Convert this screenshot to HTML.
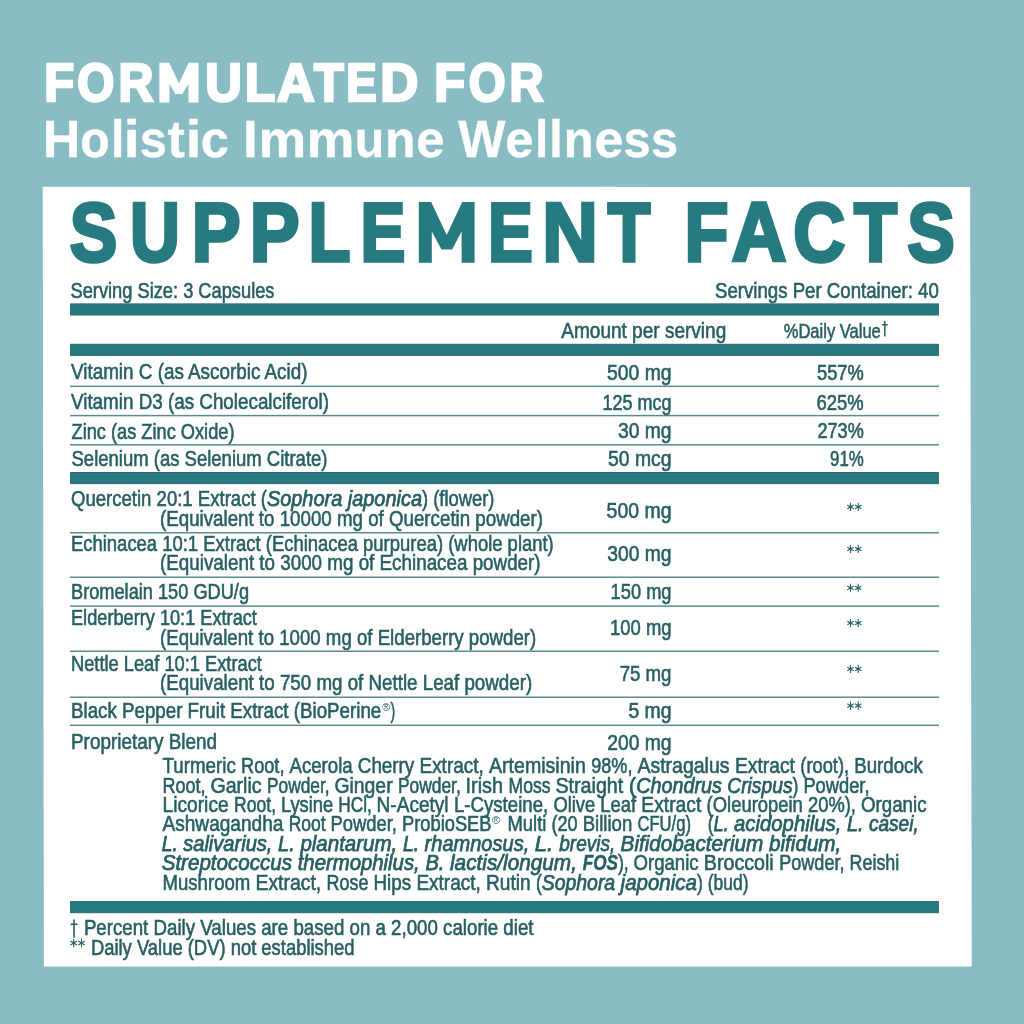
<!DOCTYPE html>
<html><head><meta charset="utf-8"><title>Supplement Facts</title>
<style>
html,body{margin:0;padding:0;background:#89bcc3;}
body{width:1024px;height:1024px;overflow:hidden;}
svg{display:block;font-family:"Liberation Sans",sans-serif;will-change:transform;}
text{white-space:pre;}
</style></head><body>
<svg width="1024" height="1024" viewBox="0 0 1024 1024">
<rect x="0" y="0" width="1024" height="1024" fill="#89bcc3"/>
<polygon points="42.7,186.8 970.1,186.9 971.8,966.5 43.9,966.4" fill="#ffffff"/>
<text x="44.27" y="101.2" font-size="53.77906976744187" font-weight="bold" fill="#ffffff" stroke="#ffffff" stroke-width="2.6" stroke-linejoin="miter" textLength="29.98" lengthAdjust="spacingAndGlyphs">F</text>
<text x="77.34" y="101.2" font-size="53.77906976744187" font-weight="bold" fill="#ffffff" stroke="#ffffff" stroke-width="2.6" stroke-linejoin="miter" textLength="37.11" lengthAdjust="spacingAndGlyphs">O</text>
<text x="118.57" y="101.2" font-size="53.77906976744187" font-weight="bold" fill="#ffffff" stroke="#ffffff" stroke-width="2.6" stroke-linejoin="miter" textLength="34.87" lengthAdjust="spacingAndGlyphs">R</text>
<text x="205.26" y="101.2" font-size="53.77906976744187" font-weight="bold" fill="#ffffff" stroke="#ffffff" stroke-width="2.6" stroke-linejoin="miter" textLength="36.52" lengthAdjust="spacingAndGlyphs">U</text>
<text x="244.99" y="101.2" font-size="53.77906976744187" font-weight="bold" fill="#ffffff" stroke="#ffffff" stroke-width="2.6" stroke-linejoin="miter" textLength="30.23" lengthAdjust="spacingAndGlyphs">L</text>
<text x="277.00" y="101.2" font-size="53.77906976744187" font-weight="bold" fill="#ffffff" stroke="#ffffff" stroke-width="2.6" stroke-linejoin="miter" textLength="37.57" lengthAdjust="spacingAndGlyphs">A</text>
<text x="314.00" y="101.2" font-size="53.77906976744187" font-weight="bold" fill="#ffffff" stroke="#ffffff" stroke-width="2.6" stroke-linejoin="miter" textLength="29.72" lengthAdjust="spacingAndGlyphs">T</text>
<text x="346.24" y="101.2" font-size="53.77906976744187" font-weight="bold" fill="#ffffff" stroke="#ffffff" stroke-width="2.6" stroke-linejoin="miter" textLength="30.49" lengthAdjust="spacingAndGlyphs">E</text>
<text x="380.27" y="101.2" font-size="53.77906976744187" font-weight="bold" fill="#ffffff" stroke="#ffffff" stroke-width="2.6" stroke-linejoin="miter" textLength="38.15" lengthAdjust="spacingAndGlyphs">D</text>
<text x="434.17" y="101.2" font-size="53.77906976744187" font-weight="bold" fill="#ffffff" stroke="#ffffff" stroke-width="2.6" stroke-linejoin="miter" textLength="30.88" lengthAdjust="spacingAndGlyphs">F</text>
<text x="468.86" y="101.2" font-size="53.77906976744187" font-weight="bold" fill="#ffffff" stroke="#ffffff" stroke-width="2.6" stroke-linejoin="miter" textLength="36.83" lengthAdjust="spacingAndGlyphs">O</text>
<text x="509.40" y="101.2" font-size="53.77906976744187" font-weight="bold" fill="#ffffff" stroke="#ffffff" stroke-width="2.6" stroke-linejoin="miter" textLength="34.02" lengthAdjust="spacingAndGlyphs">R</text>
<text x="43.00" y="157.3" font-size="52.470930232558146" font-weight="bold" fill="#ffffff" stroke="#ffffff" stroke-width="0.4" stroke-linejoin="miter" textLength="37.28" lengthAdjust="spacingAndGlyphs">H</text>
<text x="80.32" y="157.3" font-size="52.470930232558146" font-weight="bold" fill="#ffffff" stroke="#ffffff" stroke-width="0.4" stroke-linejoin="miter" textLength="29.35" lengthAdjust="spacingAndGlyphs">o</text>
<text x="111.09" y="157.3" font-size="52.470930232558146" font-weight="bold" fill="#ffffff" stroke="#ffffff" stroke-width="0.4" stroke-linejoin="miter" textLength="13.36" lengthAdjust="spacingAndGlyphs">l</text>
<text x="123.71" y="157.3" font-size="52.470930232558146" font-weight="bold" fill="#ffffff" stroke="#ffffff" stroke-width="0.4" stroke-linejoin="miter" textLength="15.90" lengthAdjust="spacingAndGlyphs">i</text>
<text x="139.74" y="157.3" font-size="52.470930232558146" font-weight="bold" fill="#ffffff" stroke="#ffffff" stroke-width="0.4" stroke-linejoin="miter" textLength="27.06" lengthAdjust="spacingAndGlyphs">s</text>
<text x="167.56" y="157.3" font-size="52.470930232558146" font-weight="bold" fill="#ffffff" stroke="#ffffff" stroke-width="0.4" stroke-linejoin="miter" textLength="17.37" lengthAdjust="spacingAndGlyphs">t</text>
<text x="185.46" y="157.3" font-size="52.470930232558146" font-weight="bold" fill="#ffffff" stroke="#ffffff" stroke-width="0.4" stroke-linejoin="miter" textLength="15.90" lengthAdjust="spacingAndGlyphs">i</text>
<text x="200.73" y="157.3" font-size="52.470930232558146" font-weight="bold" fill="#ffffff" stroke="#ffffff" stroke-width="0.4" stroke-linejoin="miter" textLength="28.05" lengthAdjust="spacingAndGlyphs">c</text>
<text x="242.92" y="157.3" font-size="52.470930232558146" font-weight="bold" fill="#ffffff" stroke="#ffffff" stroke-width="0.4" stroke-linejoin="miter" textLength="14.66" lengthAdjust="spacingAndGlyphs">I</text>
<text x="258.68" y="157.3" font-size="52.470930232558146" font-weight="bold" fill="#ffffff" stroke="#ffffff" stroke-width="0.4" stroke-linejoin="miter" textLength="47.42" lengthAdjust="spacingAndGlyphs">m</text>
<text x="306.66" y="157.3" font-size="52.470930232558146" font-weight="bold" fill="#ffffff" stroke="#ffffff" stroke-width="0.4" stroke-linejoin="miter" textLength="47.72" lengthAdjust="spacingAndGlyphs">m</text>
<text x="354.70" y="157.3" font-size="52.470930232558146" font-weight="bold" fill="#ffffff" stroke="#ffffff" stroke-width="0.4" stroke-linejoin="miter" textLength="29.54" lengthAdjust="spacingAndGlyphs">u</text>
<text x="384.91" y="157.3" font-size="52.470930232558146" font-weight="bold" fill="#ffffff" stroke="#ffffff" stroke-width="0.4" stroke-linejoin="miter" textLength="30.48" lengthAdjust="spacingAndGlyphs">n</text>
<text x="416.21" y="157.3" font-size="52.470930232558146" font-weight="bold" fill="#ffffff" stroke="#ffffff" stroke-width="0.4" stroke-linejoin="miter" textLength="28.33" lengthAdjust="spacingAndGlyphs">e</text>
<text x="458.15" y="157.3" font-size="52.470930232558146" font-weight="bold" fill="#ffffff" stroke="#ffffff" stroke-width="0.4" stroke-linejoin="miter" textLength="47.20" lengthAdjust="spacingAndGlyphs">W</text>
<text x="505.21" y="157.3" font-size="52.470930232558146" font-weight="bold" fill="#ffffff" stroke="#ffffff" stroke-width="0.4" stroke-linejoin="miter" textLength="28.33" lengthAdjust="spacingAndGlyphs">e</text>
<text x="535.22" y="157.3" font-size="52.470930232558146" font-weight="bold" fill="#ffffff" stroke="#ffffff" stroke-width="0.4" stroke-linejoin="miter" textLength="12.86" lengthAdjust="spacingAndGlyphs">l</text>
<text x="549.34" y="157.3" font-size="52.470930232558146" font-weight="bold" fill="#ffffff" stroke="#ffffff" stroke-width="0.4" stroke-linejoin="miter" textLength="13.36" lengthAdjust="spacingAndGlyphs">l</text>
<text x="563.73" y="157.3" font-size="52.470930232558146" font-weight="bold" fill="#ffffff" stroke="#ffffff" stroke-width="0.4" stroke-linejoin="miter" textLength="29.85" lengthAdjust="spacingAndGlyphs">n</text>
<text x="594.42" y="157.3" font-size="52.470930232558146" font-weight="bold" fill="#ffffff" stroke="#ffffff" stroke-width="0.4" stroke-linejoin="miter" textLength="28.91" lengthAdjust="spacingAndGlyphs">e</text>
<text x="623.49" y="157.3" font-size="52.470930232558146" font-weight="bold" fill="#ffffff" stroke="#ffffff" stroke-width="0.4" stroke-linejoin="miter" textLength="27.06" lengthAdjust="spacingAndGlyphs">s</text>
<text x="650.99" y="157.3" font-size="52.470930232558146" font-weight="bold" fill="#ffffff" stroke="#ffffff" stroke-width="0.4" stroke-linejoin="miter" textLength="27.06" lengthAdjust="spacingAndGlyphs">s</text>
<text x="69.69" y="261.25" font-size="83.57558139534885" font-weight="bold" fill="#277a80" stroke="#277a80" stroke-width="3.5" stroke-linejoin="miter" textLength="47.59" lengthAdjust="spacingAndGlyphs">S</text>
<text x="130.10" y="261.25" font-size="83.57558139534885" font-weight="bold" fill="#277a80" stroke="#277a80" stroke-width="3.5" stroke-linejoin="miter" textLength="49.86" lengthAdjust="spacingAndGlyphs">U</text>
<text x="191.84" y="261.25" font-size="83.57558139534885" font-weight="bold" fill="#277a80" stroke="#277a80" stroke-width="3.5" stroke-linejoin="miter" textLength="48.91" lengthAdjust="spacingAndGlyphs">P</text>
<text x="249.76" y="261.25" font-size="83.57558139534885" font-weight="bold" fill="#277a80" stroke="#277a80" stroke-width="3.5" stroke-linejoin="miter" textLength="49.80" lengthAdjust="spacingAndGlyphs">P</text>
<text x="308.41" y="261.25" font-size="83.57558139534885" font-weight="bold" fill="#277a80" stroke="#277a80" stroke-width="3.5" stroke-linejoin="miter" textLength="41.96" lengthAdjust="spacingAndGlyphs">L</text>
<text x="360.50" y="261.25" font-size="83.57558139534885" font-weight="bold" fill="#277a80" stroke="#277a80" stroke-width="3.5" stroke-linejoin="miter" textLength="44.88" lengthAdjust="spacingAndGlyphs">E</text>
<text x="488.00" y="261.25" font-size="83.57558139534885" font-weight="bold" fill="#277a80" stroke="#277a80" stroke-width="3.5" stroke-linejoin="miter" textLength="44.88" lengthAdjust="spacingAndGlyphs">E</text>
<text x="542.35" y="261.25" font-size="83.57558139534885" font-weight="bold" fill="#277a80" stroke="#277a80" stroke-width="3.5" stroke-linejoin="miter" textLength="55.59" lengthAdjust="spacingAndGlyphs">N</text>
<text x="607.72" y="261.25" font-size="83.57558139534885" font-weight="bold" fill="#277a80" stroke="#277a80" stroke-width="3.5" stroke-linejoin="miter" textLength="42.53" lengthAdjust="spacingAndGlyphs">T</text>
<text x="684.44" y="261.25" font-size="83.57558139534885" font-weight="bold" fill="#277a80" stroke="#277a80" stroke-width="3.5" stroke-linejoin="miter" textLength="43.95" lengthAdjust="spacingAndGlyphs">F</text>
<text x="731.87" y="261.25" font-size="83.57558139534885" font-weight="bold" fill="#277a80" stroke="#277a80" stroke-width="3.5" stroke-linejoin="miter" textLength="54.63" lengthAdjust="spacingAndGlyphs">A</text>
<text x="793.30" y="261.25" font-size="83.57558139534885" font-weight="bold" fill="#277a80" stroke="#277a80" stroke-width="3.5" stroke-linejoin="miter" textLength="51.91" lengthAdjust="spacingAndGlyphs">C</text>
<text x="853.96" y="261.25" font-size="83.57558139534885" font-weight="bold" fill="#277a80" stroke="#277a80" stroke-width="3.5" stroke-linejoin="miter" textLength="43.05" lengthAdjust="spacingAndGlyphs">T</text>
<text x="907.19" y="261.25" font-size="83.57558139534885" font-weight="bold" fill="#277a80" stroke="#277a80" stroke-width="3.5" stroke-linejoin="miter" textLength="47.59" lengthAdjust="spacingAndGlyphs">S</text>
<polygon points="159.40,62.80 169.18,62.80 178.95,83.21 188.72,62.80 198.50,62.80 198.50,102.50 188.49,102.50 188.49,83.84 182.47,93.96 175.24,93.96 169.41,83.84 169.41,102.50 159.40,102.50" fill="#ffffff"/>
<polygon points="418.80,202.00 431.19,202.00 446.70,235.08 462.21,202.00 474.60,202.00 474.60,262.80 461.60,262.80 461.60,231.61 452.11,249.42 441.51,249.42 431.80,231.61 431.80,262.80 418.80,262.80" fill="#277a80"/>
<text x="70.50" y="297.5" font-size="21.5" fill="#275f63" stroke="#275f63" stroke-width="0.6" textLength="204.00" lengthAdjust="spacingAndGlyphs">Serving Size: 3 Capsules</text>
<text x="715.00" y="297.5" font-size="21.5" fill="#275f63" stroke="#275f63" stroke-width="0.6" textLength="223.75" lengthAdjust="spacingAndGlyphs">Servings Per Container: 40</text>
<rect x="70.6" y="303.90" width="867.8" height="11.1" fill="#277a80" stroke="#2b6b70" stroke-width="1"/>
<rect x="70.6" y="344.30" width="867.8" height="11.1" fill="#277a80" stroke="#2b6b70" stroke-width="1"/>
<rect x="70.6" y="472.50" width="867.8" height="11.1" fill="#277a80" stroke="#2b6b70" stroke-width="1"/>
<rect x="70.6" y="901.60" width="867.8" height="11.1" fill="#277a80" stroke="#2b6b70" stroke-width="1"/>
<text x="561.25" y="338" font-size="22" fill="#275f63" stroke="#275f63" stroke-width="0.6" textLength="165.00" lengthAdjust="spacingAndGlyphs">Amount per serving</text>
<text x="783.75" y="338" font-size="21" fill="#275f63" stroke="#275f63" stroke-width="0.6" textLength="97.05" lengthAdjust="spacingAndGlyphs">%Daily Value</text>
<path d="M884.8,321.1V336.5M882,324.7H887.8" stroke="#275f63" stroke-width="1.5" fill="none"/>
<rect x="70" y="385.55" width="869" height="1.5" fill="#5d8b8d"/>
<rect x="70" y="414.85" width="869" height="1.5" fill="#5d8b8d"/>
<rect x="70" y="444.05" width="869" height="1.5" fill="#5d8b8d"/>
<rect x="70" y="532.0" width="869" height="1.5" fill="#5d8b8d"/>
<rect x="70" y="576.5" width="869" height="1.5" fill="#5d8b8d"/>
<rect x="70" y="605.35" width="869" height="1.5" fill="#5d8b8d"/>
<rect x="70" y="650.5" width="869" height="1.5" fill="#5d8b8d"/>
<rect x="70" y="696.5" width="869" height="1.5" fill="#5d8b8d"/>
<rect x="70" y="724.55" width="869" height="1.5" fill="#5d8b8d"/>
<text x="71.00" y="379.3" font-size="21.9" fill="#275f63" stroke="#275f63" stroke-width="0.6" textLength="236.50" lengthAdjust="spacingAndGlyphs">Vitamin C (as Ascorbic Acid)</text>
<text x="71.00" y="409" font-size="21.9" fill="#275f63" stroke="#275f63" stroke-width="0.6" textLength="258.00" lengthAdjust="spacingAndGlyphs">Vitamin D3 (as Cholecalciferol)</text>
<text x="71.50" y="438.5" font-size="21.9" fill="#275f63" stroke="#275f63" stroke-width="0.6" textLength="163.00" lengthAdjust="spacingAndGlyphs">Zinc (as Zinc Oxide)</text>
<text x="71.50" y="466.25" font-size="21.9" fill="#275f63" stroke="#275f63" stroke-width="0.6" textLength="256.00" lengthAdjust="spacingAndGlyphs">Selenium (as Selenium Citrate)</text>
<text x="160.00" y="525.6" font-size="21.9" fill="#275f63" stroke="#275f63" stroke-width="0.6" textLength="383.00" lengthAdjust="spacingAndGlyphs">(Equivalent to 10000 mg of Quercetin powder)</text>
<text x="71.00" y="551.25" font-size="21.9" fill="#275f63" stroke="#275f63" stroke-width="0.6" textLength="482.75" lengthAdjust="spacingAndGlyphs">Echinacea 10:1 Extract (Echinacea purpurea) (whole plant)</text>
<text x="160.00" y="570.25" font-size="21.9" fill="#275f63" stroke="#275f63" stroke-width="0.6" textLength="380.60" lengthAdjust="spacingAndGlyphs">(Equivalent to 3000 mg of Echinacea powder)</text>
<text x="71.00" y="598.75" font-size="21.9" fill="#275f63" stroke="#275f63" stroke-width="0.6" textLength="178.00" lengthAdjust="spacingAndGlyphs">Bromelain 150 GDU/g</text>
<text x="71.00" y="625.25" font-size="21.9" fill="#275f63" stroke="#275f63" stroke-width="0.6" textLength="185.90" lengthAdjust="spacingAndGlyphs">Elderberry 10:1 Extract</text>
<text x="160.00" y="645" font-size="21.9" fill="#275f63" stroke="#275f63" stroke-width="0.6" textLength="376.25" lengthAdjust="spacingAndGlyphs">(Equivalent to 1000 mg of Elderberry powder)</text>
<text x="71.00" y="670.6" font-size="21.9" fill="#275f63" stroke="#275f63" stroke-width="0.6" textLength="190.90" lengthAdjust="spacingAndGlyphs">Nettle Leaf 10:1 Extract</text>
<text x="160.00" y="690.25" font-size="21.9" fill="#275f63" stroke="#275f63" stroke-width="0.6" textLength="372.20" lengthAdjust="spacingAndGlyphs">(Equivalent to 750 mg of Nettle Leaf powder)</text>
<text x="71.00" y="717.5" font-size="21.9" fill="#275f63" stroke="#275f63" stroke-width="0.6" textLength="310.25" lengthAdjust="spacingAndGlyphs">Black Pepper Fruit Extract (BioPerine</text>
<text x="390.60" y="717.5" font-size="21.9" fill="#275f63" stroke="#275f63" stroke-width="0.6" textLength="4.70" lengthAdjust="spacingAndGlyphs">)</text>
<text x="71.00" y="748.75" font-size="21.9" fill="#275f63" stroke="#275f63" stroke-width="0.6" textLength="146.00" lengthAdjust="spacingAndGlyphs">Proprietary Blend</text>
<text x="382.20" y="710.5" font-size="11" fill="#275f63" textLength="7.80" lengthAdjust="spacingAndGlyphs">®</text>
<text x="71.00" y="506.25" font-size="21.9" fill="#275f63" stroke="#275f63" stroke-width="0.6" textLength="195.90" lengthAdjust="spacingAndGlyphs">Quercetin 20:1 Extract (</text>
<text x="266.90" y="506.25" font-size="21.9" font-style="italic" fill="#275f63" stroke="#275f63" stroke-width="0.75" textLength="155.10" lengthAdjust="spacingAndGlyphs">Sophora japonica</text>
<text x="422.00" y="506.25" font-size="21.9" fill="#275f63" stroke="#275f63" stroke-width="0.6" textLength="72.40" lengthAdjust="spacingAndGlyphs">) (flower)</text>
<text x="607.00" y="379.5" font-size="21.9" fill="#275f63" stroke="#275f63" stroke-width="0.6" textLength="64.50" lengthAdjust="spacingAndGlyphs">500 mg</text>
<text x="602.50" y="409.7" font-size="21.9" fill="#275f63" stroke="#275f63" stroke-width="0.6" textLength="69.00" lengthAdjust="spacingAndGlyphs">125 mcg</text>
<text x="618.00" y="438.4" font-size="21.9" fill="#275f63" stroke="#275f63" stroke-width="0.6" textLength="53.50" lengthAdjust="spacingAndGlyphs">30 mg</text>
<text x="608.00" y="466" font-size="21.9" fill="#275f63" stroke="#275f63" stroke-width="0.6" textLength="63.50" lengthAdjust="spacingAndGlyphs">50 mcg</text>
<text x="606.60" y="518.4" font-size="21.9" fill="#275f63" stroke="#275f63" stroke-width="0.6" textLength="64.90" lengthAdjust="spacingAndGlyphs">500 mg</text>
<text x="607.20" y="560.6" font-size="21.9" fill="#275f63" stroke="#275f63" stroke-width="0.6" textLength="64.30" lengthAdjust="spacingAndGlyphs">300 mg</text>
<text x="610.60" y="599" font-size="21.9" fill="#275f63" stroke="#275f63" stroke-width="0.6" textLength="60.90" lengthAdjust="spacingAndGlyphs">150 mg</text>
<text x="610.00" y="635" font-size="21.9" fill="#275f63" stroke="#275f63" stroke-width="0.6" textLength="61.50" lengthAdjust="spacingAndGlyphs">100 mg</text>
<text x="619.70" y="680.6" font-size="21.9" fill="#275f63" stroke="#275f63" stroke-width="0.6" textLength="51.80" lengthAdjust="spacingAndGlyphs">75 mg</text>
<text x="628.40" y="718" font-size="21.9" fill="#275f63" stroke="#275f63" stroke-width="0.6" textLength="43.10" lengthAdjust="spacingAndGlyphs">5 mg</text>
<text x="607.20" y="750" font-size="21.9" fill="#275f63" stroke="#275f63" stroke-width="0.6" textLength="64.30" lengthAdjust="spacingAndGlyphs">200 mg</text>
<text x="817.00" y="379.5" font-size="21.9" fill="#275f63" stroke="#275f63" stroke-width="0.6" textLength="46.75" lengthAdjust="spacingAndGlyphs">557%</text>
<text x="816.60" y="409.7" font-size="21.9" fill="#275f63" stroke="#275f63" stroke-width="0.6" textLength="47.15" lengthAdjust="spacingAndGlyphs">625%</text>
<text x="817.50" y="438.4" font-size="21.9" fill="#275f63" stroke="#275f63" stroke-width="0.6" textLength="46.25" lengthAdjust="spacingAndGlyphs">273%</text>
<text x="830.00" y="466" font-size="21.9" fill="#275f63" stroke="#275f63" stroke-width="0.6" textLength="33.75" lengthAdjust="spacingAndGlyphs">91%</text>
<path d="M850.50,502.83V510.97M847.30,505.05L853.70,508.75M847.30,508.75L853.70,505.05" stroke="#275f63" stroke-width="1.1" fill="none"/>
<path d="M858.20,502.83V510.97M855.00,505.05L861.40,508.75M855.00,508.75L861.40,505.05" stroke="#275f63" stroke-width="1.1" fill="none"/>
<path d="M850.50,544.93V553.07M847.30,547.15L853.70,550.85M847.30,550.85L853.70,547.15" stroke="#275f63" stroke-width="1.1" fill="none"/>
<path d="M858.20,544.93V553.07M855.00,547.15L861.40,550.85M855.00,550.85L861.40,547.15" stroke="#275f63" stroke-width="1.1" fill="none"/>
<path d="M850.50,583.73V591.87M847.30,585.95L853.70,589.65M847.30,589.65L853.70,585.95" stroke="#275f63" stroke-width="1.1" fill="none"/>
<path d="M858.20,583.73V591.87M855.00,585.95L861.40,589.65M855.00,589.65L861.40,585.95" stroke="#275f63" stroke-width="1.1" fill="none"/>
<path d="M850.50,618.93V627.07M847.30,621.15L853.70,624.85M847.30,624.85L853.70,621.15" stroke="#275f63" stroke-width="1.1" fill="none"/>
<path d="M858.20,618.93V627.07M855.00,621.15L861.40,624.85M855.00,624.85L861.40,621.15" stroke="#275f63" stroke-width="1.1" fill="none"/>
<path d="M850.50,664.93V673.07M847.30,667.15L853.70,670.85M847.30,670.85L853.70,667.15" stroke="#275f63" stroke-width="1.1" fill="none"/>
<path d="M858.20,664.93V673.07M855.00,667.15L861.40,670.85M855.00,670.85L861.40,667.15" stroke="#275f63" stroke-width="1.1" fill="none"/>
<path d="M850.50,701.53V709.67M847.30,703.75L853.70,707.45M847.30,707.45L853.70,703.75" stroke="#275f63" stroke-width="1.1" fill="none"/>
<path d="M858.20,701.53V709.67M855.00,703.75L861.40,707.45M855.00,707.45L861.40,703.75" stroke="#275f63" stroke-width="1.1" fill="none"/>
<text x="162.50" y="773" font-size="21.9" fill="#275f63" stroke="#275f63" stroke-width="0.6" textLength="78.50" lengthAdjust="spacingAndGlyphs">Turmeric </text>
<text x="241.00" y="773" font-size="21.9" fill="#275f63" stroke="#275f63" stroke-width="0.6" textLength="48.50" lengthAdjust="spacingAndGlyphs">Root, </text>
<text x="289.50" y="773" font-size="21.9" fill="#275f63" stroke="#275f63" stroke-width="0.6" textLength="68.30" lengthAdjust="spacingAndGlyphs">Acerola </text>
<text x="357.80" y="773" font-size="21.9" fill="#275f63" stroke="#275f63" stroke-width="0.6" textLength="61.70" lengthAdjust="spacingAndGlyphs">Cherry </text>
<text x="419.50" y="773" font-size="21.9" fill="#275f63" stroke="#275f63" stroke-width="0.6" textLength="69.50" lengthAdjust="spacingAndGlyphs">Extract, </text>
<text x="489.00" y="773" font-size="21.9" fill="#275f63" stroke="#275f63" stroke-width="0.6" textLength="102.30" lengthAdjust="spacingAndGlyphs">Artemisinin </text>
<text x="591.30" y="773" font-size="21.9" fill="#275f63" stroke="#275f63" stroke-width="0.6" textLength="46.10" lengthAdjust="spacingAndGlyphs">98%, </text>
<text x="637.40" y="773" font-size="21.9" fill="#275f63" stroke="#275f63" stroke-width="0.6" textLength="97.60" lengthAdjust="spacingAndGlyphs">Astragalus </text>
<text x="735.00" y="773" font-size="21.9" fill="#275f63" stroke="#275f63" stroke-width="0.6" textLength="65.30" lengthAdjust="spacingAndGlyphs">Extract </text>
<text x="800.30" y="773" font-size="21.9" fill="#275f63" stroke="#275f63" stroke-width="0.6" textLength="53.90" lengthAdjust="spacingAndGlyphs">(root), </text>
<text x="854.20" y="773" font-size="21.9" fill="#275f63" stroke="#275f63" stroke-width="0.6" textLength="68.60" lengthAdjust="spacingAndGlyphs">Burdock</text>
<text x="162.50" y="792.5" font-size="21.9" fill="#275f63" stroke="#275f63" stroke-width="0.6" textLength="48.00" lengthAdjust="spacingAndGlyphs">Root, </text>
<text x="210.50" y="792.5" font-size="21.9" fill="#275f63" stroke="#275f63" stroke-width="0.6" textLength="56.50" lengthAdjust="spacingAndGlyphs">Garlic </text>
<text x="267.00" y="792.5" font-size="21.9" fill="#275f63" stroke="#275f63" stroke-width="0.6" textLength="67.40" lengthAdjust="spacingAndGlyphs">Powder, </text>
<text x="334.40" y="792.5" font-size="21.9" fill="#275f63" stroke="#275f63" stroke-width="0.6" textLength="63.60" lengthAdjust="spacingAndGlyphs">Ginger </text>
<text x="398.00" y="792.5" font-size="21.9" fill="#275f63" stroke="#275f63" stroke-width="0.6" textLength="67.60" lengthAdjust="spacingAndGlyphs">Powder, </text>
<text x="465.60" y="792.5" font-size="21.9" fill="#275f63" stroke="#275f63" stroke-width="0.6" textLength="43.00" lengthAdjust="spacingAndGlyphs">Irish </text>
<text x="508.60" y="792.5" font-size="21.9" fill="#275f63" stroke="#275f63" stroke-width="0.6" textLength="46.80" lengthAdjust="spacingAndGlyphs">Moss </text>
<text x="555.40" y="792.5" font-size="21.9" fill="#275f63" stroke="#275f63" stroke-width="0.6" textLength="73.40" lengthAdjust="spacingAndGlyphs">Straight </text>
<text x="628.80" y="792.5" font-size="21.9" fill="#275f63" stroke="#275f63" stroke-width="0.6" textLength="7.45" lengthAdjust="spacingAndGlyphs">(</text>
<text x="636.25" y="792.5" font-size="21.9" font-style="italic" fill="#275f63" stroke="#275f63" stroke-width="0.75" textLength="91.05" lengthAdjust="spacingAndGlyphs">Chondrus </text>
<text x="727.30" y="792.5" font-size="21.9" font-style="italic" fill="#275f63" stroke="#275f63" stroke-width="0.75" textLength="65.20" lengthAdjust="spacingAndGlyphs">Crispus</text>
<text x="792.50" y="792.5" font-size="21.9" fill="#275f63" stroke="#275f63" stroke-width="0.6" textLength="10.90" lengthAdjust="spacingAndGlyphs">) </text>
<text x="803.40" y="792.5" font-size="21.9" fill="#275f63" stroke="#275f63" stroke-width="0.6" textLength="66.10" lengthAdjust="spacingAndGlyphs">Powder,</text>
<text x="162.50" y="812" font-size="21.9" fill="#275f63" stroke="#275f63" stroke-width="0.6" textLength="71.50" lengthAdjust="spacingAndGlyphs">Licorice </text>
<text x="234.00" y="812" font-size="21.9" fill="#275f63" stroke="#275f63" stroke-width="0.6" textLength="46.90" lengthAdjust="spacingAndGlyphs">Root, </text>
<text x="280.90" y="812" font-size="21.9" fill="#275f63" stroke="#275f63" stroke-width="0.6" textLength="57.40" lengthAdjust="spacingAndGlyphs">Lysine </text>
<text x="338.30" y="812" font-size="21.9" fill="#275f63" stroke="#275f63" stroke-width="0.6" textLength="38.30" lengthAdjust="spacingAndGlyphs">HCl, </text>
<text x="376.60" y="812" font-size="21.9" fill="#275f63" stroke="#275f63" stroke-width="0.6" textLength="77.30" lengthAdjust="spacingAndGlyphs">N-Acetyl </text>
<text x="453.90" y="812" font-size="21.9" fill="#275f63" stroke="#275f63" stroke-width="0.6" textLength="99.50" lengthAdjust="spacingAndGlyphs">L-Cysteine, </text>
<text x="553.40" y="812" font-size="21.9" fill="#275f63" stroke="#275f63" stroke-width="0.6" textLength="46.90" lengthAdjust="spacingAndGlyphs">Olive </text>
<text x="600.30" y="812" font-size="21.9" fill="#275f63" stroke="#275f63" stroke-width="0.6" textLength="41.00" lengthAdjust="spacingAndGlyphs">Leaf </text>
<text x="641.30" y="812" font-size="21.9" fill="#275f63" stroke="#275f63" stroke-width="0.6" textLength="65.30" lengthAdjust="spacingAndGlyphs">Extract </text>
<text x="706.60" y="812" font-size="21.9" fill="#275f63" stroke="#275f63" stroke-width="0.6" textLength="101.40" lengthAdjust="spacingAndGlyphs">(Oleuropein </text>
<text x="808.00" y="812" font-size="21.9" fill="#275f63" stroke="#275f63" stroke-width="0.6" textLength="53.00" lengthAdjust="spacingAndGlyphs">20%), </text>
<text x="861.00" y="812" font-size="21.9" fill="#275f63" stroke="#275f63" stroke-width="0.6" textLength="65.50" lengthAdjust="spacingAndGlyphs">Organic</text>
<text x="162.50" y="831.3" font-size="21.9" fill="#275f63" stroke="#275f63" stroke-width="0.6" textLength="126.20" lengthAdjust="spacingAndGlyphs">Ashwagandha </text>
<text x="288.70" y="831.3" font-size="21.9" fill="#275f63" stroke="#275f63" stroke-width="0.6" textLength="41.80" lengthAdjust="spacingAndGlyphs">Root </text>
<text x="330.50" y="831.3" font-size="21.9" fill="#275f63" stroke="#275f63" stroke-width="0.6" textLength="71.50" lengthAdjust="spacingAndGlyphs">Powder, </text>
<text x="402.00" y="831.3" font-size="21.9" fill="#275f63" stroke="#275f63" stroke-width="0.6" textLength="89.50" lengthAdjust="spacingAndGlyphs">ProbioSEB</text>
<text x="492.00" y="824.3" font-size="11" fill="#275f63" textLength="8.00" lengthAdjust="spacingAndGlyphs">®</text>
<text x="507.40" y="831.3" font-size="21.9" fill="#275f63" stroke="#275f63" stroke-width="0.6" textLength="44.10" lengthAdjust="spacingAndGlyphs">Multi </text>
<text x="551.50" y="831.3" font-size="21.9" fill="#275f63" stroke="#275f63" stroke-width="0.6" textLength="31.20" lengthAdjust="spacingAndGlyphs">(20 </text>
<text x="582.70" y="831.3" font-size="21.9" fill="#275f63" stroke="#275f63" stroke-width="0.6" textLength="54.70" lengthAdjust="spacingAndGlyphs">Billion </text>
<text x="637.40" y="831.3" font-size="21.9" fill="#275f63" stroke="#275f63" stroke-width="0.6" textLength="53.60" lengthAdjust="spacingAndGlyphs">CFU/g)</text>
<text x="707.70" y="831.3" font-size="21.9" fill="#275f63" stroke="#275f63" stroke-width="0.6" textLength="5.90" lengthAdjust="spacingAndGlyphs">(</text>
<text x="713.60" y="831.3" font-size="21.9" font-style="italic" fill="#275f63" stroke="#275f63" stroke-width="0.75" textLength="20.40" lengthAdjust="spacingAndGlyphs">L. </text>
<text x="734.00" y="831.3" font-size="21.9" font-style="italic" fill="#275f63" stroke="#275f63" stroke-width="0.75" textLength="113.00" lengthAdjust="spacingAndGlyphs">acidophilus, </text>
<text x="847.00" y="831.3" font-size="21.9" font-style="italic" fill="#275f63" stroke="#275f63" stroke-width="0.75" textLength="22.00" lengthAdjust="spacingAndGlyphs">L. </text>
<text x="869.00" y="831.3" font-size="21.9" font-style="italic" fill="#275f63" stroke="#275f63" stroke-width="0.75" textLength="49.70" lengthAdjust="spacingAndGlyphs">casei,</text>
<text x="161.70" y="850.8" font-size="21.9" font-style="italic" fill="#275f63" stroke="#275f63" stroke-width="0.75" textLength="21.50" lengthAdjust="spacingAndGlyphs">L. </text>
<text x="183.20" y="850.8" font-size="21.9" font-style="italic" fill="#275f63" stroke="#275f63" stroke-width="0.75" textLength="94.80" lengthAdjust="spacingAndGlyphs">salivarius, </text>
<text x="278.00" y="850.8" font-size="21.9" font-style="italic" fill="#275f63" stroke="#275f63" stroke-width="0.75" textLength="22.40" lengthAdjust="spacingAndGlyphs">L. </text>
<text x="300.40" y="850.8" font-size="21.9" font-style="italic" fill="#275f63" stroke="#275f63" stroke-width="0.75" textLength="102.60" lengthAdjust="spacingAndGlyphs">plantarum, </text>
<text x="403.00" y="850.8" font-size="21.9" font-style="italic" fill="#275f63" stroke="#275f63" stroke-width="0.75" textLength="21.60" lengthAdjust="spacingAndGlyphs">L. </text>
<text x="424.60" y="850.8" font-size="21.9" font-style="italic" fill="#275f63" stroke="#275f63" stroke-width="0.75" textLength="110.20" lengthAdjust="spacingAndGlyphs">rhamnosus, </text>
<text x="534.80" y="850.8" font-size="21.9" font-style="italic" fill="#275f63" stroke="#275f63" stroke-width="0.75" textLength="24.50" lengthAdjust="spacingAndGlyphs">L. </text>
<text x="559.30" y="850.8" font-size="21.9" font-style="italic" fill="#275f63" stroke="#275f63" stroke-width="0.75" textLength="61.30" lengthAdjust="spacingAndGlyphs">brevis, </text>
<text x="620.60" y="850.8" font-size="21.9" font-style="italic" fill="#275f63" stroke="#275f63" stroke-width="0.75" textLength="148.40" lengthAdjust="spacingAndGlyphs">Bifidobacterium </text>
<text x="769.00" y="850.8" font-size="21.9" font-style="italic" fill="#275f63" stroke="#275f63" stroke-width="0.75" textLength="72.30" lengthAdjust="spacingAndGlyphs">bifidum,</text>
<text x="161.70" y="870" font-size="21.9" font-style="italic" fill="#275f63" stroke="#275f63" stroke-width="0.75" textLength="136.00" lengthAdjust="spacingAndGlyphs">Streptococcus </text>
<text x="297.70" y="870" font-size="21.9" font-style="italic" fill="#275f63" stroke="#275f63" stroke-width="0.75" textLength="127.70" lengthAdjust="spacingAndGlyphs">thermophilus, </text>
<text x="425.40" y="870" font-size="21.9" font-style="italic" fill="#275f63" stroke="#275f63" stroke-width="0.75" textLength="24.60" lengthAdjust="spacingAndGlyphs">B. </text>
<text x="450.00" y="870" font-size="21.9" font-style="italic" fill="#275f63" stroke="#275f63" stroke-width="0.75" textLength="132.70" lengthAdjust="spacingAndGlyphs">lactis/longum, </text>
<text x="582.70" y="870" font-size="21.9" font-weight="bold" font-style="italic" fill="#275f63" stroke="#275f63" stroke-width="0.5" textLength="35.20" lengthAdjust="spacingAndGlyphs">FOS</text>
<text x="617.90" y="870" font-size="21.9" fill="#275f63" stroke="#275f63" stroke-width="0.6" textLength="15.60" lengthAdjust="spacingAndGlyphs">), </text>
<text x="633.50" y="870" font-size="21.9" fill="#275f63" stroke="#275f63" stroke-width="0.6" textLength="70.30" lengthAdjust="spacingAndGlyphs">Organic </text>
<text x="703.80" y="870" font-size="21.9" fill="#275f63" stroke="#275f63" stroke-width="0.6" textLength="75.40" lengthAdjust="spacingAndGlyphs">Broccoli </text>
<text x="779.20" y="870" font-size="21.9" fill="#275f63" stroke="#275f63" stroke-width="0.6" textLength="70.30" lengthAdjust="spacingAndGlyphs">Powder, </text>
<text x="849.50" y="870" font-size="21.9" fill="#275f63" stroke="#275f63" stroke-width="0.6" textLength="49.80" lengthAdjust="spacingAndGlyphs">Reishi</text>
<text x="162.50" y="889.5" font-size="21.9" fill="#275f63" stroke="#275f63" stroke-width="0.6" textLength="93.00" lengthAdjust="spacingAndGlyphs">Mushroom </text>
<text x="255.50" y="889.5" font-size="21.9" fill="#275f63" stroke="#275f63" stroke-width="0.6" textLength="71.10" lengthAdjust="spacingAndGlyphs">Extract, </text>
<text x="326.60" y="889.5" font-size="21.9" fill="#275f63" stroke="#275f63" stroke-width="0.6" textLength="46.80" lengthAdjust="spacingAndGlyphs">Rose </text>
<text x="373.40" y="889.5" font-size="21.9" fill="#275f63" stroke="#275f63" stroke-width="0.6" textLength="43.00" lengthAdjust="spacingAndGlyphs">Hips </text>
<text x="416.40" y="889.5" font-size="21.9" fill="#275f63" stroke="#275f63" stroke-width="0.6" textLength="69.60" lengthAdjust="spacingAndGlyphs">Extract, </text>
<text x="486.00" y="889.5" font-size="21.9" fill="#275f63" stroke="#275f63" stroke-width="0.6" textLength="49.90" lengthAdjust="spacingAndGlyphs">Rutin </text>
<text x="535.90" y="889.5" font-size="21.9" fill="#275f63" stroke="#275f63" stroke-width="0.6" textLength="5.80" lengthAdjust="spacingAndGlyphs">(</text>
<text x="541.70" y="889.5" font-size="21.9" font-style="italic" fill="#275f63" stroke="#275f63" stroke-width="0.75" textLength="78.90" lengthAdjust="spacingAndGlyphs">Sophora </text>
<text x="620.60" y="889.5" font-size="21.9" font-style="italic" fill="#275f63" stroke="#275f63" stroke-width="0.75" textLength="76.40" lengthAdjust="spacingAndGlyphs">japonica</text>
<text x="697.00" y="889.5" font-size="21.9" fill="#275f63" stroke="#275f63" stroke-width="0.6" textLength="10.70" lengthAdjust="spacingAndGlyphs">) </text>
<text x="707.70" y="889.5" font-size="21.9" fill="#275f63" stroke="#275f63" stroke-width="0.6" textLength="40.80" lengthAdjust="spacingAndGlyphs">(bud)</text>
<path d="M74,919.6V937.75M70.6,924.3H77.75" stroke="#275f63" stroke-width="1.6" fill="none"/>
<text x="83.90" y="935.4" font-size="21.5" fill="#275f63" stroke="#275f63" stroke-width="0.6" textLength="449.60" lengthAdjust="spacingAndGlyphs">Percent Daily Values are based on a 2,000 calorie diet</text>
<path d="M73.70,938.82V947.18M70.41,941.10L76.99,944.90M70.41,944.90L76.99,941.10" stroke="#275f63" stroke-width="1.1" fill="none"/>
<path d="M81.50,938.82V947.18M78.21,941.10L84.79,944.90M78.21,944.90L84.79,941.10" stroke="#275f63" stroke-width="1.1" fill="none"/>
<text x="90.90" y="955" font-size="21.5" fill="#275f63" stroke="#275f63" stroke-width="0.6" textLength="263.60" lengthAdjust="spacingAndGlyphs">Daily Value (DV) not established</text>
</svg>
</body></html>
